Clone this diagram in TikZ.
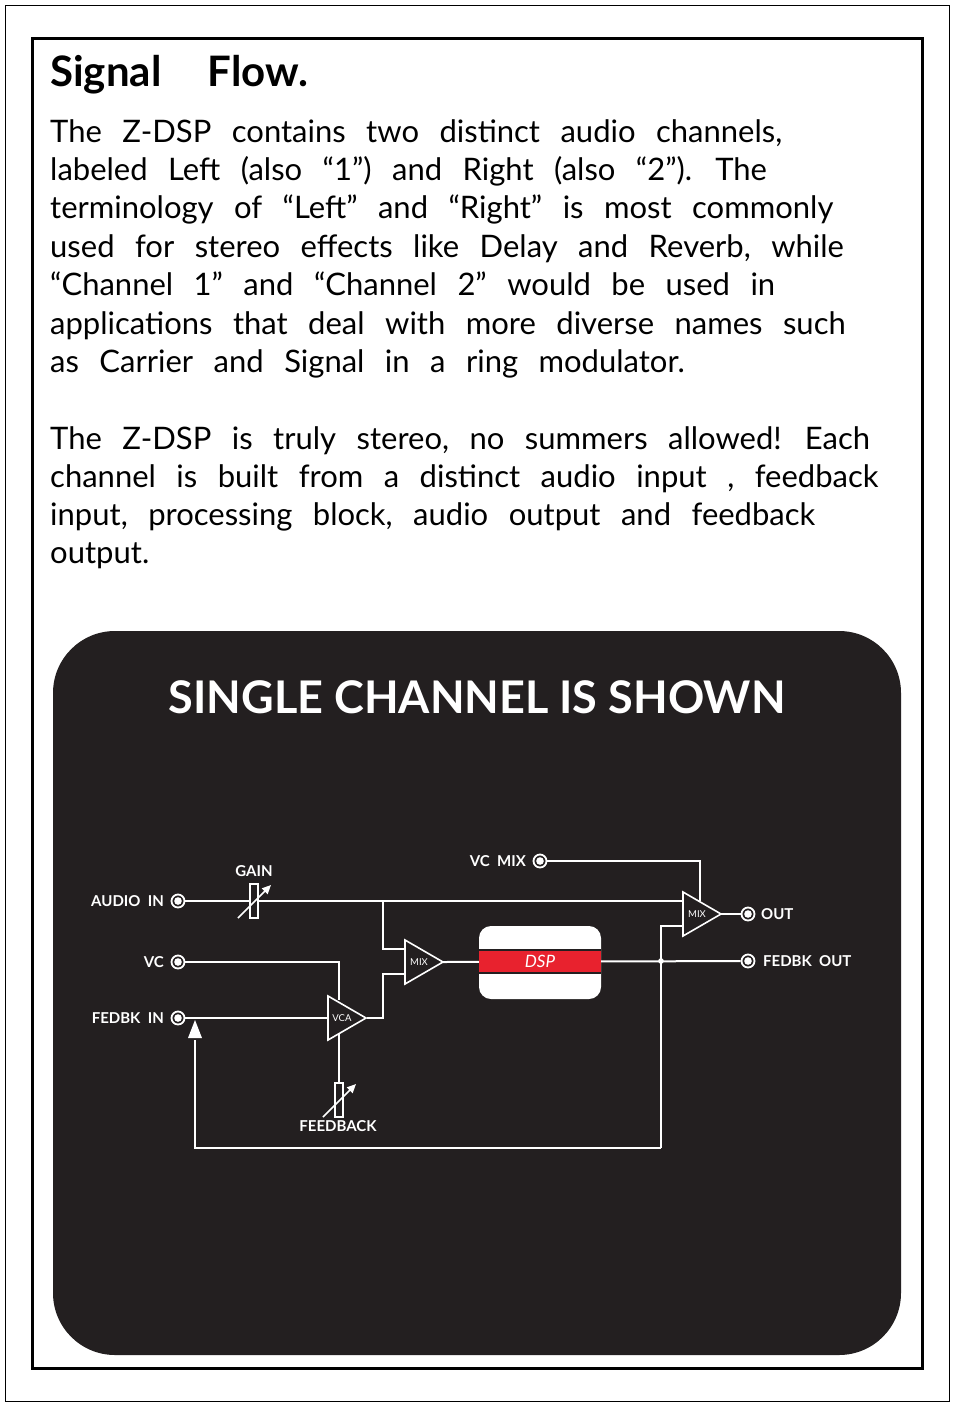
\documentclass[tikz,border=0pt]{standalone}
\usepackage{fontspec}
\setmainfont{Lato}
\usetikzlibrary{arrows.meta}
\definecolor{panel}{HTML}{231F20}
\definecolor{dspred}{HTML}{E8222E}
\newcommand{\bodysp}{\spaceskip=0.66em\relax}
\newcommand{\titlesp}{\spaceskip=1.1em\relax}
\tikzset{
  wire/.style={white, line width=2pt},
  jack/.style={circle, draw=white, line width=1.8pt, minimum size=13pt, inner sep=0pt},
  lbl/.style={white, font=\fontsize{15}{15}\selectfont\bfseries, inner sep=0pt},
  amp/.style={white, line width=1.6pt, fill=panel},
  body/.style={anchor=base west, inner sep=0pt, font=\fontsize{31}{31}\selectfont\bodysp},
}
\newcommand{\ampshape}[2]{% left x, centre y
  \draw[amp] (#1,#2-22) -- (#1+38,#2) -- (#1,#2+22) -- cycle;}
\begin{document}
\begin{tikzpicture}[x=1pt,y=-1pt]
  \useasboundingbox (0,0) rectangle (954,1406);
  \fill[white] (0,0) rectangle (954,1406);
  \draw[line width=1pt] (5,5) rectangle (949,1401);
  \draw[line width=3pt] (32,38) rectangle (922,1368);

  % text
  \node[anchor=base west, inner sep=0pt, font=\fontsize{42}{42}\selectfont\bfseries\titlesp] (title) at (50,86) {Signal Flow.};
  \node[body] (l1) at (50,142) {The Z-DSP contains two distinct audio channels,};
  \node[body] (l2) at (50,180) {labeled Left (also “1”) and Right (also “2”). The};
  \node[body] (l3) at (50,218) {terminology of “Left” and “Right” is most commonly};
  \node[body] (l4) at (50,257) {used for stereo effects like Delay and Reverb, while};
  \node[body] (l5) at (50,295) {“Channel 1” and “Channel 2” would be used in};
  \node[body] (l6) at (50,334) {applications that deal with more diverse names such};
  \node[body] (l7) at (50,372) {as Carrier and Signal in a ring modulator.};
  \node[body] (l8) at (50,449) {The Z-DSP is truly stereo, no summers allowed! Each};
  \node[body] (l9) at (50,487) {channel is built from a distinct audio input , feedback};
  \node[body] (l10) at (50,525) {input, processing block, audio output and feedback};
  \node[body] (l11) at (50,563) {output.};

  % panel
  \fill[panel, rounded corners=62pt] (53,631) rectangle (901,1355);
  \node[white, font=\fontsize{45}{45}\selectfont\bfseries] (head) at (477,697) {SINGLE CHANNEL IS SHOWN};

  % jacks
  \foreach \n/\x/\y in {ain/178/901, vc/178/962, fin/178/1018, vcmix/540/861, out/748/914, fout/748/961} {
    \node[jack] (\n) at (\x,\y) {};
    \fill[white] (\n) circle (3.8pt);
  }
  \node[lbl, anchor=east] (ainl) at (164,901) {AUDIO\ \ IN};
  \node[lbl, anchor=east] (vcl) at (164,962) {VC};
  \node[lbl, anchor=east] (finl) at (164,1018) {FEDBK\ \ IN};
  \node[lbl, anchor=east] (vcmixl) at (526,861) {VC\ \ MIX};
  \node[lbl, anchor=west] (outl) at (761,914) {OUT};
  \node[lbl, anchor=west] (foutl) at (763,961) {FEDBK\ \ OUT};
  \node[lbl] (gainl) at (254,871) {GAIN};
  \node[lbl] (fbl) at (338,1126) {FEEDBACK};

  % wires
  \draw[wire] (ain) -- (683,901);
  \draw[wire] (383,901) |- (405,949);
  \draw[wire] (vc) -| (339,1000);
  \draw[wire] (fin) -- (328,1018);
  \draw[wire] (367,1018) -- (383,1018) |- (405,974);
  \draw[wire] (443,962) -- (fout);
  \draw[wire] (661,1148) |- (683,926);
  \draw[wire] (661,1148) -- (195,1148) -- (195,1040);
  \fill[white] (195,1020) -- (202,1038) -- (188,1038) -- cycle;
  \fill[white] (661,961) circle (2.8pt);
  \draw[wire] (vcmix) -| (700,901);
  \draw[wire] (721,914) -- (out);
  \draw[wire] (339,1034) -- (339,1083);

  % amps
  \ampshape{328}{1018}
  \ampshape{405}{962}
  \ampshape{683}{914}
  \node[white, font=\fontsize{9.5}{9.5}\selectfont, inner sep=0pt] (vca) at (342,1018) {VCA};
  \node[white, font=\fontsize{9.5}{9.5}\selectfont, inner sep=0pt] (mixa) at (419,962) {MIX};
  \node[white, font=\fontsize{9.5}{9.5}\selectfont, inner sep=0pt] (mixb) at (697,914) {MIX};

  % pots
  \foreach \cx/\cy in {254/901, 339/1100} {
    \draw[white, line width=1.6pt, fill=panel] (\cx-4,\cy-17) rectangle (\cx+4,\cy+17);
    \draw[white, line width=1.6pt, -{Triangle[length=9pt,width=8pt]}] (\cx-16,\cy+17) -- (\cx+17,\cy-16);
  }

  % dsp block
  \fill[white, rounded corners=12pt] (479,926) rectangle (601,999);
  \fill[panel] (479,949) rectangle (601,974);
  \fill[dspred] (479,951) rectangle (601,972);
  \node[white, font=\fontsize{17}{17}\selectfont\itshape, inner sep=0pt] (dsp) at (540,961) {DSP};
\end{tikzpicture}
\end{document}
